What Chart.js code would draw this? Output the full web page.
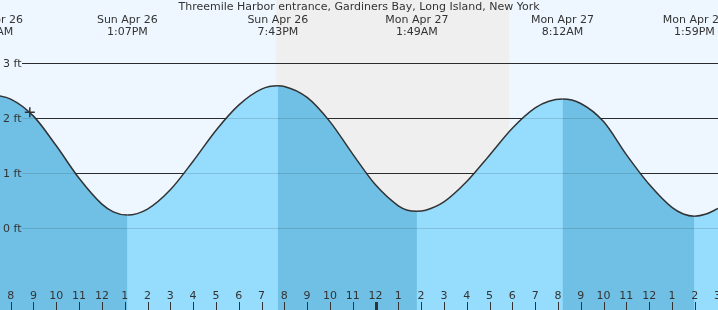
<!DOCTYPE html>
<html><head><meta charset="utf-8">
<script src="https://cdn.jsdelivr.net/npm/chart.js@4.4.0/dist/chart.umd.min.js"></script>
<style>html,body{margin:0;padding:0;background:#eef7ff;overflow:hidden}canvas{display:block}</style>
</head><body>
<canvas id="c" width="718" height="310"></canvas>
<script>
const TITLE = "Threemile Harbor entrance, Gardiners Bay, Long Island, New York";
// time in hours from Sun Apr 26 00:00, height in feet
const tideHours = [7.20, 8, 9, 10, 11, 12, 12.5, 13.117, 14, 15, 16, 17, 18, 19, 19.717,
                   20, 21, 22, 23, 24, 25, 25.4, 25.817, 26.2, 27, 28, 29, 30, 31, 31.6, 32.2,
                   33, 34, 35, 36, 37, 37.5, 37.983, 38.5, 39.02];
const tideFeet  = [2.43, 2.35, 2.04, 1.50, 0.91, 0.44, 0.30, 0.24, 0.35, 0.70, 1.22, 1.78, 2.24, 2.53, 2.59,
                   2.58, 2.38, 1.94, 1.35, 0.79, 0.41, 0.33, 0.31, 0.33, 0.48, 0.85, 1.33, 1.82, 2.19, 2.31, 2.35,
                   2.27, 1.94, 1.34, 0.80, 0.38, 0.26, 0.22, 0.26, 0.36];
const extremeHours = [7.20, 13.117, 19.717, 25.817, 32.20, 37.983];
const extremeDays  = ["Sun Apr 26", "Sun Apr 26", "Sun Apr 26", "Mon Apr 27", "Mon Apr 27", "Mon Apr 27"];
const extremeTimes = ["7:12AM", "1:07PM", "7:43PM", "1:49AM", "8:12AM", "1:59PM"];
const nowHour = [8.838];
const nowFeet = [2.11];
const nightStart = 19.64, nightEnd = 29.86;
const hourTicks  = [8,9,10,11,12,13,14,15,16,17,18,19,20,21,22,23,24,25,26,27,28,29,30,31,32,33,34,35,36,37,38,39];
const hourLabels = ["8","9","10","11","12","1","2","3","4","5","6","7","8","9","10","11","12","1","2","3","4","5","6","7","8","9","10","11","12","1","2","3"];
const midnightHours = [24];
const feetTicks  = [0, 1, 2, 3];
const feetLabels = ["0 ft", "1 ft", "2 ft", "3 ft"];
const xMin = 7.531, xMax = 39.02, yMin = -1.485, yMax = 4.151;

const FONT = '11px "DejaVu Sans", sans-serif';
const TXT = '#333';

function gridLines(chart, color) {
  const {ctx, width} = chart;
  const y = chart.scales.y;
  ctx.save();
  ctx.strokeStyle = color;
  ctx.lineWidth = 1;
  feetTicks.forEach(v => {
    const py = Math.round(y.getPixelForValue(v)) + 0.5;
    ctx.beginPath();
    ctx.moveTo(22, py);
    ctx.lineTo(width, py);
    ctx.stroke();
  });
  ctx.restore();
}

const decor = {
  id: 'decor',
  beforeDraw(chart) {
    const {ctx, width, height} = chart;
    const x = chart.scales.x;
    ctx.save();
    ctx.fillStyle = '#eef7ff';
    ctx.fillRect(0, 0, width, height);
    const a = x.getPixelForValue(nightStart), b = x.getPixelForValue(nightEnd);
    ctx.fillStyle = '#efefef';
    ctx.fillRect(a, 0, b - a, height);
    ctx.restore();
  },
  beforeDatasetsDraw(chart) {
    gridLines(chart, '#333');
  },
  afterDatasetsDraw(chart) {
    gridLines(chart, 'rgba(0,0,0,0.13)');
    const {ctx, width, height} = chart;
    const x = chart.scales.x, y = chart.scales.y;
    ctx.save();
    ctx.fillStyle = TXT;
    ctx.font = FONT;
    ctx.textAlign = 'left';
    ctx.textBaseline = 'middle';
    feetTicks.forEach((v, i) => {
      ctx.fillText(feetLabels[i], 3, y.getPixelForValue(v) + 0.5);
    });
    ctx.textAlign = 'center';
    hourTicks.forEach((h, i) => {
      const px = x.getPixelForValue(h);
      ctx.fillText(hourLabels[i], px, 296);
      if (midnightHours.includes(h)) {
        ctx.fillRect(Math.round(px) - 1, 302, 3, height - 302);
      } else {
        ctx.fillRect(Math.round(px), 302, 1, height - 302);
      }
    });
    extremeHours.forEach((h, i) => {
      const px = x.getPixelForValue(h);
      ctx.fillText(extremeDays[i], px, 20);
      ctx.fillText(extremeTimes[i], px, 32.5);
    });
    ctx.fillText(TITLE, width / 2, 7.5);
    ctx.restore();
  }
};

const DARK = '#70c0e6';
const LIGHT = '#96dcfd';
const tidePoints = tideHours.map((h, i) => ({x: h, y: tideFeet[i]}));

new Chart(document.getElementById('c'), {
  type: 'line',
  data: {
    datasets: [
      {
        type: 'scatter',
        data: nowHour.map((h, i) => ({x: h, y: nowFeet[i]})),
        pointStyle: 'cross',
        pointRadius: 5,
        pointBorderWidth: 1.5,
        pointBorderColor: '#333',
        showLine: false,
        clip: false,
        order: 0
      },
      {
        data: tidePoints,
        borderColor: '#333',
        borderWidth: 1.5,
        pointRadius: 0,
        cubicInterpolationMode: 'monotone',
        fill: 'start',
        backgroundColor: DARK,
        segment: {
          backgroundColor: c => (c.p1.parsed.y > c.p0.parsed.y ? 'rgba(0,0,0,0)' : DARK)
        },
        order: 1
      },
      {
        data: tidePoints,
        borderColor: 'rgba(0,0,0,0)',
        borderWidth: 1,
        pointRadius: 0,
        cubicInterpolationMode: 'monotone',
        fill: 'start',
        backgroundColor: LIGHT,
        order: 2
      }
    ]
  },
  options: {
    responsive: false,
    devicePixelRatio: 1,
    animation: false,
    layout: {padding: 0, autoPadding: false},
    plugins: {legend: {display: false}, tooltip: {enabled: false}, title: {display: false}},
    scales: {
      x: {type: 'linear', min: xMin, max: xMax, display: false},
      y: {type: 'linear', min: yMin, max: yMax, display: false}
    }
  },
  plugins: [decor]
});
</script>
</body></html>
